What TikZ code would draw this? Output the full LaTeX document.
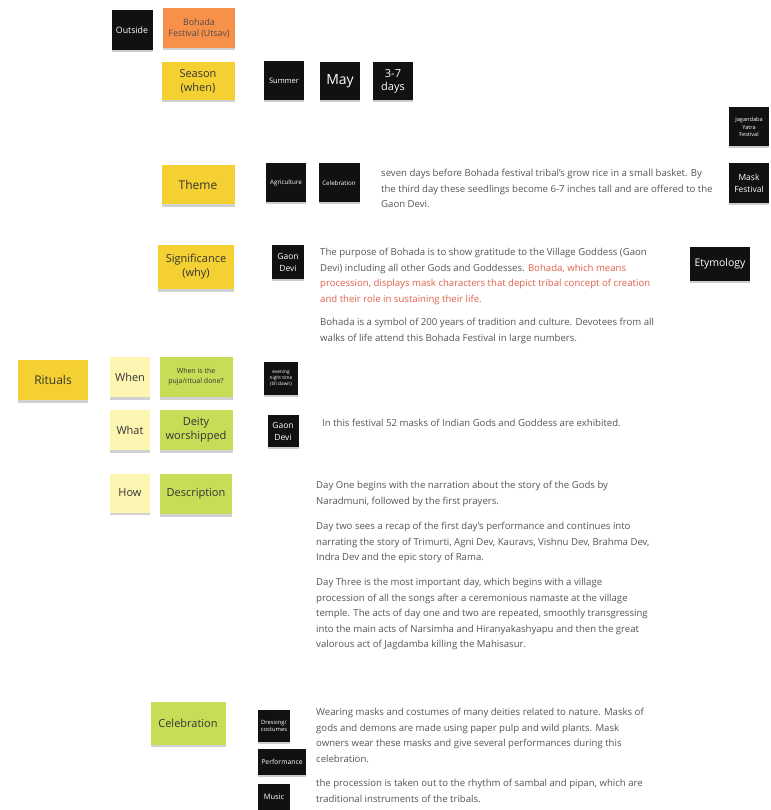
\documentclass[tikz,border=0pt]{standalone}
\usepackage{fontspec}
\setmainfont{Open Sans}
\usetikzlibrary{shadows}
\definecolor{orangenote}{HTML}{F7914A}
\definecolor{yellownote}{HTML}{F5D033}
\definecolor{paleyellow}{HTML}{FDF5B2}
\definecolor{greennote}{HTML}{C6DE57}
\definecolor{tagblack}{HTML}{111111}
\definecolor{bodygray}{HTML}{555555}
\definecolor{redtext}{HTML}{E0614C}
\tikzset{
  note/.style={inner sep=1pt, align=center, text=black!80,
    drop shadow={shadow xshift=0pt, shadow yshift=-2.5pt, fill=black, opacity=0.18}},
  tag/.style={fill=tagblack, text=white, inner sep=1pt, align=center,
    drop shadow={shadow xshift=0pt, shadow yshift=-2pt, fill=black, opacity=0.2}},
  body/.style={anchor=north west, inner sep=0pt, align=left, text=bodygray,
    font=\fontsize{9.6}{15.5}\selectfont}
}
\begin{document}
\begin{tikzpicture}[x=1pt,y=-1pt]
\useasboundingbox[fill=white] (0,0) rectangle (770,810);

% top
\node[tag, minimum width=41pt, minimum height=40pt, font=\fontsize{8.8}{10}\selectfont] (outside) at (132,30) {Outside};
\node[note, fill=orangenote, minimum width=72pt, minimum height=40pt, font=\fontsize{8.8}{11}\selectfont, text=black!70] (bohada) at (199,28) {Bohada\\Festival (Utsav)};

% season
\node[note, fill=yellownote, minimum width=73pt, minimum height=38pt, font=\fontsize{11}{14}\selectfont] (season) at (198,81) {Season\\(when)};
\node[tag, minimum width=40pt, minimum height=39pt, font=\fontsize{7.5}{8}\selectfont] (summer) at (284,81) {Summer};
\node[tag, minimum width=40pt, minimum height=38pt, font=\fontsize{14}{16}\selectfont] (may) at (340,81) {May};
\node[tag, minimum width=40pt, minimum height=38pt, font=\fontsize{11}{13}\selectfont] (days) at (393,81) {3-7\\days};

% right side tags
\node[tag, minimum width=40pt, minimum height=39pt, font=\fontsize{5.6}{7.5}\selectfont] (jagad) at (749,127) {Jagandaba\\Yatra\\Festival};
\node[tag, minimum width=40pt, minimum height=40pt, font=\fontsize{8.5}{12}\selectfont] (mask) at (749,183) {Mask\\Festival};
\node[tag, minimum width=60pt, minimum height=34pt, font=\fontsize{10.5}{12}\selectfont] (etym) at (720,264) {Etymology};

% theme
\node[note, fill=yellownote, minimum width=73pt, minimum height=39pt, font=\fontsize{12}{14}\selectfont] (theme) at (198,185) {Theme};
\node[tag, minimum width=40pt, minimum height=39pt, font=\fontsize{6.2}{7}\selectfont] (agri) at (286,183) {Agriculture};
\node[tag, minimum width=41pt, minimum height=39pt, font=\fontsize{6.2}{7}\selectfont] (celeb1) at (339,183) {Celebration};
\node[body] (themetext) at (381,169) {seven days before Bohada festival tribal's grow rice in a small basket. By\\the third day these seedlings become 6-7 inches tall and are offered to the\\Gaon Devi.};

% significance
\node[note, fill=yellownote, minimum width=76pt, minimum height=44pt, font=\fontsize{11}{14}\selectfont] (signif) at (196,267) {Significance\\(why)};
\node[tag, minimum width=32pt, minimum height=34pt, font=\fontsize{8.5}{12}\selectfont] (gaon1) at (288,262) {Gaon\\Devi};
\node[body] (sigtext) at (320,248) {The purpose of Bohada is to show gratitude to the Village Goddess (Gaon\\Devi) including all other Gods and Goddesses. \textcolor{redtext}{Bohada, which means}\\\textcolor{redtext}{procession, displays mask characters that depict tribal concept of creation}\\\textcolor{redtext}{and their role in sustaining their life.}};
\node[body] (sigtext2) at (320,318) {Bohada is a symbol of 200 years of tradition and culture. Devotees from all\\walks of life attend this Bohada Festival in large numbers.};

% rituals
\node[note, fill=yellownote, minimum width=70pt, minimum height=40pt, font=\fontsize{12}{14}\selectfont] (rituals) at (53,380) {Rituals};
\node[note, fill=paleyellow, minimum width=40pt, minimum height=40pt, font=\fontsize{11}{13}\selectfont] (when) at (130,377) {When};
\node[note, fill=greennote, minimum width=73pt, minimum height=40pt, font=\fontsize{7}{10}\selectfont] (whenq) at (196,377) {When is the\\puja/ritual done?};
\node[tag, minimum width=34pt, minimum height=33pt, font=\fontsize{4.8}{6}\selectfont] (evening) at (281,378) {evening\\night time\\(till dawn)};

\node[note, fill=paleyellow, minimum width=40pt, minimum height=40pt, font=\fontsize{11}{13}\selectfont] (what) at (130,430) {What};
\node[note, fill=greennote, minimum width=73pt, minimum height=40pt, font=\fontsize{11}{14}\selectfont] (deity) at (196,430) {Deity\\worshipped};
\node[tag, minimum width=31pt, minimum height=32pt, font=\fontsize{8.5}{12}\selectfont] (gaon2) at (283,431) {Gaon\\Devi};
\node[body] (deitytext) at (322,419) {In this festival 52 masks of Indian Gods and Goddess are exhibited.};

\node[note, fill=paleyellow, minimum width=40pt, minimum height=39pt, font=\fontsize{11}{13}\selectfont] (how) at (130,493) {How};
\node[note, fill=greennote, minimum width=72pt, minimum height=40pt, font=\fontsize{11}{13}\selectfont] (desc) at (196,494) {Description};
\node[body] (d1) at (316,481) {Day One begins with the narration about the story of the Gods by\\Naradmuni, followed by the first prayers.};
\node[body] (d2) at (316,522) {Day two sees a recap of the first day's performance and continues into\\narrating the story of Trimurti, Agni Dev, Kauravs, Vishnu Dev, Brahma Dev,\\Indra Dev and the epic story of Rama.};
\node[body] (d3) at (316,578) {Day Three is the most important day, which begins with a village\\procession of all the songs after a ceremonious namaste at the village\\temple. The acts of day one and two are repeated, smoothly transgressing\\into the main acts of Narsimha and Hiranyakashyapu and then the great\\valorous act of Jagdamba killing the Mahisasur.};

% celebration
\node[note, fill=greennote, minimum width=75pt, minimum height=43pt, font=\fontsize{11}{13}\selectfont] (celeb2) at (188,723) {Celebration};
\node[tag, minimum width=32pt, minimum height=32pt, font=\fontsize{5.8}{7.5}\selectfont] (dress) at (274,726) {Dressing/\\costumes};
\node[tag, minimum width=48pt, minimum height=26pt, font=\fontsize{6.8}{8}\selectfont] (perf) at (282,762) {Performance};
\node[tag, minimum width=32pt, minimum height=27pt, font=\fontsize{7.5}{9}\selectfont] (music) at (274,797) {Music};
\node[body] (c1) at (316,708) {Wearing masks and costumes of many deities related to nature. Masks of\\gods and demons are made using paper pulp and wild plants. Mask\\owners wear these masks and give several performances during this\\celebration.};
\node[body] (c2) at (316,779) {the procession is taken out to the rhythm of sambal and pipan, which are\\traditional instruments of the tribals.};
\end{tikzpicture}
\end{document}
